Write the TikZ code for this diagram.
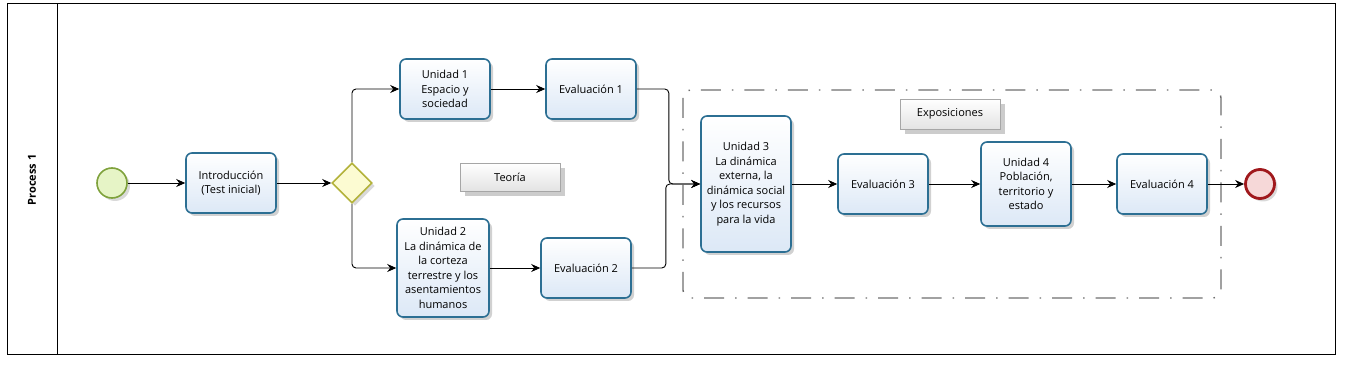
\documentclass[tikz,border=0pt]{standalone}
\usepackage{fontspec}
\setmainfont{Open Sans}
\usetikzlibrary{shapes.geometric,arrows.meta,shadows}
\definecolor{taskborder}{HTML}{2C6F93}
\definecolor{taskfill}{HTML}{DCE8F6}
\definecolor{gwborder}{HTML}{B3B23A}
\definecolor{gwfill}{HTML}{FCFBD2}
\definecolor{stborder}{HTML}{7FA23C}
\definecolor{stfill}{HTML}{E6F4C6}
\definecolor{enborder}{HTML}{A0181C}
\definecolor{enfill}{HTML}{F6D8D8}
\definecolor{grpline}{HTML}{6E6E6E}
\tikzset{
  task/.style={draw=taskborder, line width=1.6pt, rounded corners=6pt,
    top color=white, bottom color=taskfill, align=center, inner sep=2pt,
    font=\fontsize{11pt}{14.5pt}\selectfont, text=black,
    drop shadow={shadow xshift=3pt, shadow yshift=-3pt, opacity=0.18, fill=black}},
  gateway/.style={diamond, draw=gwborder, line width=1.6pt, fill=gwfill,
    minimum width=40pt, minimum height=40pt, inner sep=0pt,
    drop shadow={shadow xshift=3pt, shadow yshift=-3pt, opacity=0.15, fill=black}},
  startev/.style={circle, draw=stborder, line width=1.6pt, fill=stfill,
    minimum size=30pt, inner sep=0pt,
    drop shadow={shadow xshift=3pt, shadow yshift=-3pt, opacity=0.15, fill=black}},
  endev/.style={circle, draw=enborder, line width=2.8pt, fill=enfill,
    minimum size=29pt, inner sep=0pt,
    drop shadow={shadow xshift=3pt, shadow yshift=-3pt, opacity=0.15, fill=black}},
  lbl/.style={draw=gray!70, line width=0.6pt, top color=white, bottom color=gray!22,
    minimum width=100pt, font=\fontsize{11pt}{13pt}\selectfont,
    drop shadow={shadow xshift=5pt, shadow yshift=-5pt, opacity=0.2, fill=black}},
  flow/.style={draw=black, line width=0.9pt, rounded corners=4pt,
    -{Stealth[length=9pt,width=8pt]}},
  grp/.style={draw=grpline, line width=1.4pt, rounded corners=8pt,
    dash pattern=on 20pt off 11pt on 1.5pt off 11pt}
}
\begin{document}
\begin{tikzpicture}[x=1pt,y=-1pt]
\useasboundingbox (0,0) rectangle (1345,366);
% pool
\draw[line width=1pt] (7,4) rectangle (1335,354);
\draw[line width=1pt] (57,4) -- (57,354);
\node[rotate=90, font=\fontsize{11pt}{13pt}\selectfont\bfseries] (pool) at (32,180) {Process 1};
% group
\draw[grp] (683,90) rectangle (1221,298);
% labels
\node[lbl, minimum height=28pt] (teoria) at (510,177) {Teoría};
\node[lbl, minimum height=30pt] (expo) at (950,114) {Exposiciones};
% events and tasks
\node[startev] (start) at (112,183) {};
\node[task, minimum width=90pt, minimum height=60pt] (intro) at (231,183) {Introducción\\(Test inicial)};
\node[gateway] (gw) at (352,183) {};
\node[task, minimum width=90pt, minimum height=60pt] (u1) at (445,89) {Unidad 1\\Espacio y\\sociedad};
\node[task, minimum width=90pt, minimum height=60pt] (e1) at (591,89) {Evaluación 1};
\node[task, minimum width=92pt, minimum height=98pt] (u2) at (443,268) {Unidad 2\\La dinámica de\\la corteza\\terrestre y los\\asentamientos\\humanos};
\node[task, minimum width=90pt, minimum height=60pt] (e2) at (586,268) {Evaluación 2};
\node[task, minimum width=90pt, minimum height=136pt] (u3) at (746,184) {Unidad 3\\La dinámica\\externa, la\\dinámica social\\y los recursos\\para la vida};
\node[task, minimum width=90pt, minimum height=60pt] (e3) at (883,184) {Evaluación 3};
\node[task, minimum width=90pt, minimum height=84pt] (u4) at (1026,184) {Unidad 4\\Población,\\territorio y\\estado};
\node[task, minimum width=90pt, minimum height=60pt] (e4) at (1162,184) {Evaluación 4};
\node[endev] (end) at (1260,184) {};
% flows
\draw[flow] (start) -- (intro);
\draw[flow] (intro) -- (gw.west);
\draw[flow] (gw.north) |- (u1.west);
\draw[flow] (gw.south) |- (u2.west);
\draw[flow] (u1) -- (e1);
\draw[flow] (u2) -- (e2);
\draw[flow] (e1.east) -- ++(32,0) |- (u3.west);
\draw[flow] (e2.east) -- ++(34,0) |- (u3.west);
\draw[flow] (u3) -- (e3);
\draw[flow] (e3) -- (u4);
\draw[flow] (u4) -- (e4);
\draw[flow] (e4) -- (end);
\end{tikzpicture}
\end{document}
